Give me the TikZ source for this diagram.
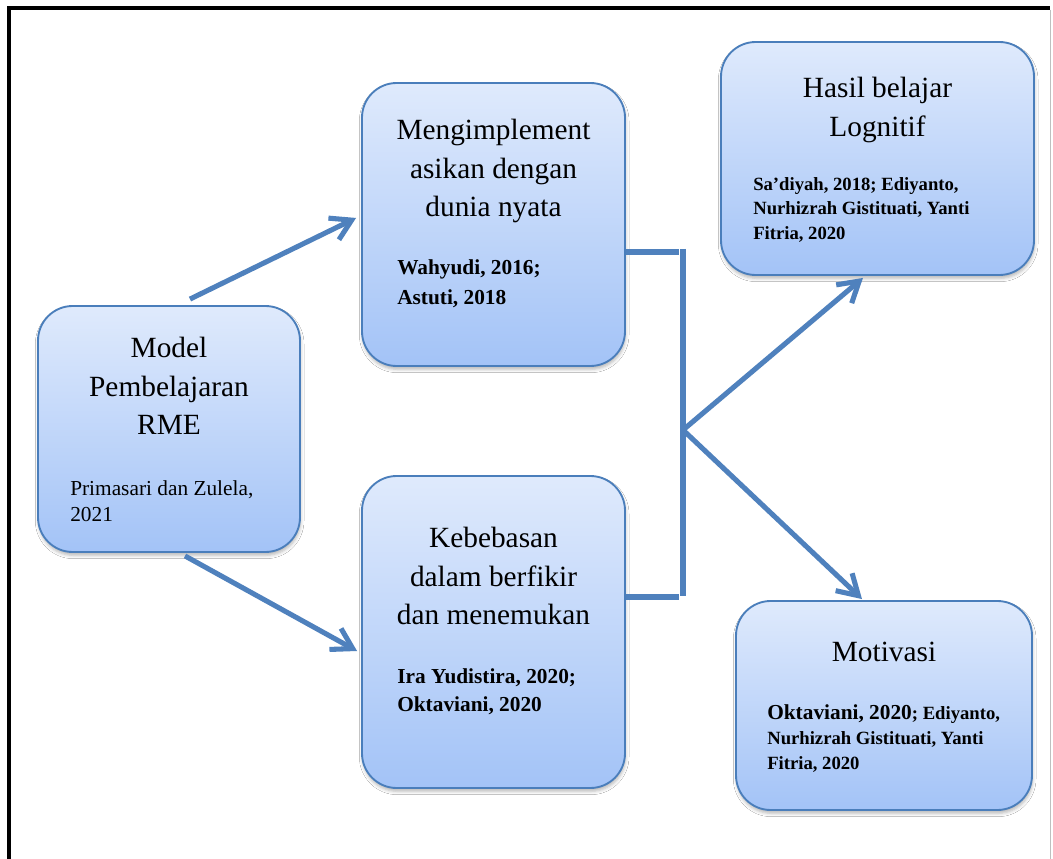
\documentclass[tikz,border=0pt]{standalone}
\usepackage{fontspec}
\setmainfont{Liberation Serif}
\usetikzlibrary{arrows.meta,shadows.blur}
\definecolor{kotakatas}{RGB}{223,234,252}
\definecolor{kotakbawah}{RGB}{163,195,247}
\definecolor{garisbiru}{RGB}{74,126,187}
\definecolor{panahbiru}{RGB}{79,129,189}
\begin{document}
\begin{tikzpicture}[x=0.75pt,y=-0.75pt,kotak/.style={draw=garisbiru,line width=1.4pt,rounded corners=26pt,top color=kotakatas,bottom color=kotakbawah,inner sep=0pt,blur shadow={shadow xshift=0.5pt,shadow yshift=-2.5pt,shadow blur radius=2.5pt,shadow opacity=28}},judul/.style={font=\fontsize{22}{29}\selectfont,align=center,inner sep=0pt,anchor=north},rujukan/.style={font=\fontsize{16}{21}\selectfont\bfseries,align=left,inner sep=0pt,anchor=north west},panah/.style={draw=panahbiru,line width=3.8pt,-{Straight Barb[length=15pt,width=18pt]}},garis/.style={draw=panahbiru,line width=3.8pt}]
\useasboundingbox (0,0) rectangle (1053,859);
\fill[white] (0,0) rectangle (1053,859);
\draw[line width=3.5pt] (9,859) -- (9,8) -- (1050,8);
\draw[black!25,line width=0.75pt] (1050,10) -- (1050,859);
% kotak
\node[kotak,minimum width=196.5pt,minimum height=184.5pt] (model) at (169,429) {};
\node[kotak,minimum width=197.25pt,minimum height=212.25pt] (implement) at (493.5,224.5) {};
\node[kotak,minimum width=197.25pt,minimum height=234pt] (kebebasan) at (493.5,632) {};
\node[kotak,minimum width=234.75pt,minimum height=174.75pt] (hasil) at (877.5,158.5) {};
\node[kotak,minimum width=222pt,minimum height=156.75pt] (motivasi) at (884,705.5) {};
% teks
\node[judul] (modelj) at (169,337) {Model\\Pembelajaran\\RME};
\node[rujukan,font=\fontsize{16}{20}\selectfont] (modelr) at (70,480) {Primasari dan Zulela,\\2021};
\node[judul] (implementj) at (493.5,119) {Mengimplement\\asikan dengan\\dunia nyata};
\node[rujukan,font=\fontsize{16}{22.5}\selectfont\bfseries] (implementr) at (397,259) {Wahyudi, 2016;\\Astuti, 2018};
\node[judul] (kebebasanj) at (493.5,527) {Kebebasan\\dalam berfikir\\dan menemukan};
\node[rujukan] (kebebasanr) at (397,668) {Ira Yudistira, 2020;\\Oktaviani, 2020};
\node[judul] (hasilj) at (877.5,77) {Hasil belajar\\Lognitif};
\node[rujukan,font=\fontsize{14}{18.4}\selectfont\bfseries] (hasilr) at (753,177) {Sa’diyah, 2018; Ediyanto,\\Nurhizrah Gistituati, Yanti\\Fitria, 2020};
\node[judul] (motivasij) at (884,642) {Motivasi};
\node[rujukan,font=\fontsize{14}{18.75}\selectfont\bfseries] (motivasir) at (767,704) {{\fontsize{16}{18.75}\selectfont Oktaviani, 2020}; Ediyanto,\\Nurhizrah Gistituati, Yanti\\Fitria, 2020};
% penghubung
\coordinate (kurungatas) at (683,249);
\coordinate (kurungbawah) at (683,596);
\coordinate (ujungatas) at (679,252);
\coordinate (ujungbawah) at (679,597);
\coordinate (cabang) at (683,430);
\draw[panah] ([xshift=15.75pt,yshift=4.5pt]model.north) -- ([xshift=-3.75pt,yshift=4.9pt]implement.west);
\draw[panah] ([xshift=12pt,yshift=-2.25pt]model.south) -- ([xshift=-3pt,yshift=-14.25pt]kebebasan.west);
\draw[garis] (ujungatas -| implement.east) -- (ujungatas);
\draw[garis] (ujungbawah -| kebebasan.east) -- (ujungbawah);
\draw[garis] (kurungatas) -- (kurungbawah);
\draw[panah] (cabang) -- ([xshift=-10.9pt,yshift=-1.5pt]hasil.south);
\draw[panah] (cabang) -- ([xshift=-16.5pt,yshift=0.75pt]motivasi.north);
\end{tikzpicture}
\end{document}
